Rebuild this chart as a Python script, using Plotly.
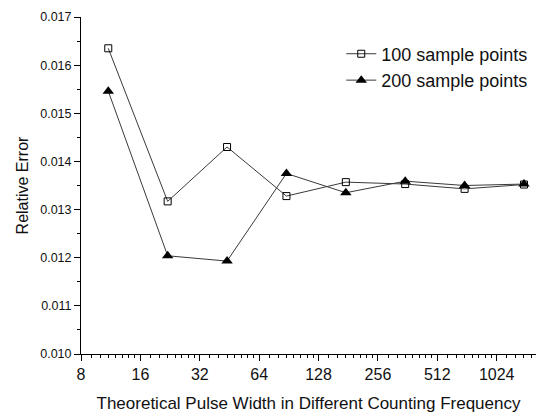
import plotly.graph_objects as go

# Data
pulse_width = [11, 22, 44, 88, 176, 352, 704, 1408]
err_100 = [0.01635, 0.01317, 0.01430, 0.01328, 0.01357, 0.01353, 0.01343, 0.01352]
err_200 = [0.01546, 0.01204, 0.01193, 0.01375, 0.01335, 0.01359, 0.01350, 0.01353]

x_ticks = [8, 16, 32, 64, 128, 256, 512, 1024]
y_ticks = [0.010, 0.011, 0.012, 0.013, 0.014, 0.015, 0.016, 0.017]

minor_x = [b * (1 + i / 8) for b in x_ticks for i in range(1, 8)]
minor_x = [v for v in minor_x if v < 1620]

FONT = "Liberation Sans, Arial, sans-serif"

fig = go.Figure()
fig.add_trace(go.Scatter(
    x=pulse_width, y=err_100, mode="lines+markers", name="100 sample points",
    line=dict(color="#3a3a3a", width=1),
    marker=dict(symbol="square-open", size=7, color="black", line=dict(width=1, color="black")),
))
fig.add_trace(go.Scatter(
    x=pulse_width, y=err_200, mode="lines+markers", name="200 sample points",
    line=dict(color="#3a3a3a", width=1),
    marker=dict(symbol="triangle-up", size=10, color="black"),
))

fig.update_layout(
    width=538, height=415,
    margin=dict(l=81, r=2, t=17, b=61),
    paper_bgcolor="white", plot_bgcolor="white",
    font=dict(family=FONT, color="#111"),
    showlegend=True,
    legend=dict(
        x=0.572, y=0.945, xanchor="left", yanchor="top",
        bgcolor="rgba(0,0,0,0)", font=dict(size=18, family=FONT, color="#111"),
        itemwidth=30, tracegroupgap=0,
    ),
    xaxis=dict(
        type="log", range=[0.90309, 3.2095],
        tickmode="array", tickvals=x_ticks, ticktext=[str(v) for v in x_ticks],
        ticks="outside", ticklen=6, tickwidth=1, tickcolor="black",
        showline=True, linecolor="black", linewidth=1,
        showgrid=False, zeroline=False,
        tickfont=dict(size=16, family=FONT, color="#111"),
        minor=dict(tickmode="array", tickvals=minor_x, ticks="outside", ticklen=3,
                   tickcolor="black", tickwidth=1, showgrid=False),
        title=dict(text="Theoretical Pulse Width in Different Counting Frequency",
                   font=dict(size=17, family=FONT, color="#111"), standoff=14),
    ),
    yaxis=dict(
        range=[0.010, 0.017],
        tickmode="array", tickvals=y_ticks, ticktext=[f"{v:.3f}" for v in y_ticks],
        ticks="outside", ticklen=6, tickwidth=1, tickcolor="black",
        showline=True, linecolor="black", linewidth=1,
        showgrid=False, zeroline=False,
        tickfont=dict(size=12.5, family=FONT, color="#111"),
        minor=dict(dtick=0.0005, ticks="outside", ticklen=3, tickcolor="black",
                   tickwidth=1, showgrid=False),
        title=dict(text="Relative Error", font=dict(size=16, family=FONT, color="#111"),
                   standoff=7),
    ),
)

fig.write_html("out.html", config={"displayModeBar": False},
               post_script="document.body.style.margin='0px';")
